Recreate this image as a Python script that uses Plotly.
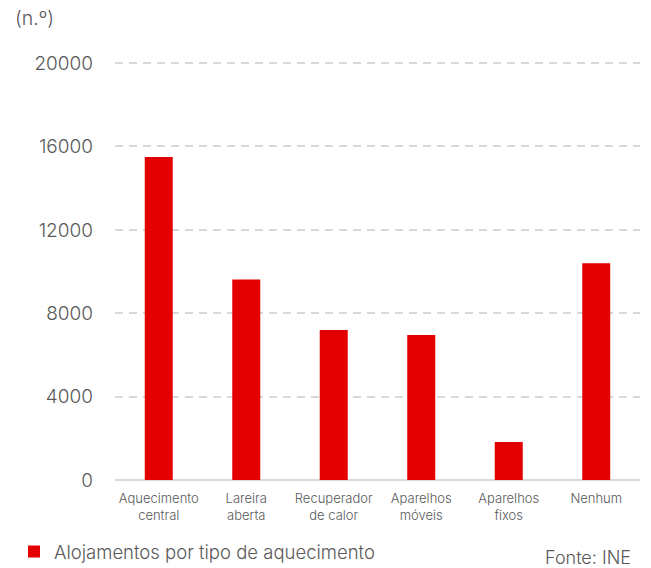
import plotly.graph_objects as go

categories = ["Aquecimento<br>central", "Lareira<br>aberta", "Recuperador<br>de calor",
              "Aparelhos<br>móveis", "Aparelhos<br>fixos", "Nenhum"]
values = [15500, 9620, 7200, 6950, 1820, 10400]
tick_vals = [0, 4000, 8000, 12000, 16000, 20000]
series_name = "Alojamentos por tipo de aquecimento"

W, H = 651, 568
L, R, T, B = 115, 11, 61, 88
pw, ph = W - L - R, H - T - B
FONT = "Inter, sans-serif"
GREY = "#595959"
WT = 300

fig = go.Figure()
fig.add_trace(go.Bar(x=categories, y=values, name=series_name,
                     marker=dict(color="#E30000", line=dict(width=0))))

fig.update_layout(
    width=W, height=H,
    margin=dict(l=L, r=R, t=T, b=B, autoexpand=False),
    paper_bgcolor="white", plot_bgcolor="white",
    font=dict(family=FONT, color=GREY, weight=WT),
    bargap=0.68,
    showlegend=True,
    legend=dict(orientation="h", xref="container", yref="container",
                x=14 / W, xanchor="left",
                y=(H - 552) / H, yanchor="middle",
                font=dict(size=18.5, color=GREY, weight=WT),
                itemwidth=30, bgcolor="rgba(0,0,0,0)"),
    xaxis=dict(showgrid=False, tickfont=dict(size=13, color=GREY, weight=WT),
               ticks="", showline=False, automargin=False, ticklabelstandoff=9),
    yaxis=dict(range=[0, 20100], tickvals=tick_vals, ticktext=[str(v) for v in tick_vals],
               showgrid=True, gridcolor="#d9d9d9", griddash="8px,6px", gridwidth=2,
               zeroline=True, zerolinecolor="#d9d9d9", zerolinewidth=1.5,
               tickfont=dict(size=19, color=GREY, weight=WT), ticks="", ticklabelstandoff=21,
               showline=False, automargin=False),
    annotations=[
        dict(text="(n.º)", xref="paper", yref="paper", x=(13 - L) / pw, y=(H - B - 18) / ph,
             xanchor="left", yanchor="middle", showarrow=False,
             font=dict(size=19.5, color=GREY, weight=WT)),
        dict(text="Fonte: INE", xref="paper", yref="paper", x=(633 - L) / pw, y=-(557 - H + B) / ph,
             xanchor="right", yanchor="middle", showarrow=False,
             font=dict(size=18, color=GREY, weight=WT)),
    ],
)

fig.write_html("out.html", config={"displayModeBar": False},
               post_script="document.body.style.margin='0';")
